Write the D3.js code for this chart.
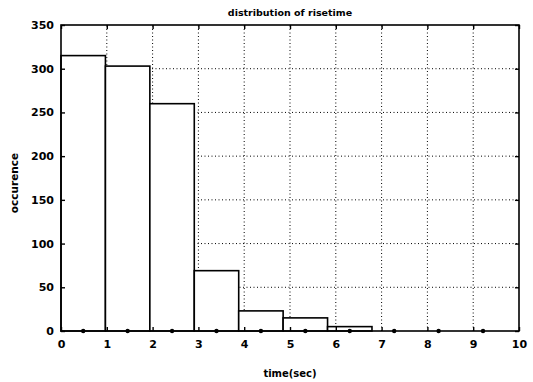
<!DOCTYPE html>
<html><head><meta charset="utf-8">
<script src="https://cdn.jsdelivr.net/npm/d3@7"></script>
<style>
html,body{margin:0;padding:0;background:#fff;}
text{font-family:"DejaVu Sans",sans-serif;font-weight:bold;fill:#000;}
</style></head>
<body>
<svg id="c" width="533" height="382"></svg>
<script>
// Histogram bins (start of each bin, in seconds) and counts
const binStarts = [0, 0.97, 1.94, 2.91, 3.88, 4.85, 5.82, 6.79, 7.76, 8.73];
const binWidth = 0.97;
const counts = [315, 303, 260, 69, 23, 15, 5, 0, 0, 0];
const xTicks = [0,1,2,3,4,5,6,7,8,9,10];
const yTicks = [0,50,100,150,200,250,300,350];
const title = "distribution of risetime";
const xLabel = "time(sec)";
const yLabel = "occurence";

const svg = d3.select("#c");
const m = {l:61, r:14, t:25, b:51};
const W = 533, H = 382;
const x = d3.scaleLinear().domain([0,10]).range([m.l, W-m.r]);
const y = d3.scaleLinear().domain([0,350]).range([H-m.b, m.t]);

// grid
const g = svg.append("g");
g.selectAll("line.vx").data(xTicks.slice(1,-1)).enter().append("line")
  .attr("x1",d=>x(d)).attr("x2",d=>x(d)).attr("y1",y(0)).attr("y2",y(350))
  .attr("stroke","#000").attr("stroke-width",1).attr("stroke-dasharray","1,2.5");
g.selectAll("line.hy").data(yTicks.slice(1,-1)).enter().append("line")
  .attr("y1",d=>y(d)).attr("y2",d=>y(d)).attr("x1",x(0)).attr("x2",x(10))
  .attr("stroke","#000").attr("stroke-width",1).attr("stroke-dasharray","1,2.5");

// bars
const bins = binStarts.map((s,i)=>({s, c:counts[i]}));
svg.selectAll("rect.bar").data(bins.filter(d=>d.c>0)).enter().append("rect")
  .attr("x",d=>x(d.s)).attr("width",d=>x(d.s+binWidth)-x(d.s))
  .attr("y",d=>y(d.c)).attr("height",d=>y(0)-y(d.c))
  .attr("fill","#fff").attr("stroke","#000").attr("stroke-width",1.6);

// markers at bin centres
svg.selectAll("circle.m").data(bins).enter().append("circle")
  .attr("cx",d=>x(d.s+binWidth/2)).attr("cy",y(0)).attr("r",2.2).attr("fill","#000");

// frame
svg.append("rect").attr("x",x(0)).attr("y",y(350)).attr("width",x(10)-x(0)).attr("height",y(0)-y(350))
  .attr("fill","none").attr("stroke","#000").attr("stroke-width",1.6);

// axes
const xa = svg.append("g").attr("transform",`translate(0,${y(0)})`)
  .call(d3.axisBottom(x).tickValues(xTicks).tickSize(-4).tickPadding(9).tickFormat(d3.format("d")));
const ya = svg.append("g").attr("transform",`translate(${x(0)},0)`)
  .call(d3.axisLeft(y).tickValues(yTicks).tickSize(-4).tickPadding(7).tickFormat(d3.format("d")));
const yr = svg.append("g").attr("transform",`translate(${x(10)},0)`)
  .call(d3.axisRight(y).tickValues(yTicks).tickSize(-4).tickFormat(""));
const xt = svg.append("g").attr("transform",`translate(0,${y(350)})`)
  .call(d3.axisTop(x).tickValues(xTicks).tickSize(-4).tickFormat(""));
[xa,ya,yr,xt].forEach(a=>{a.select(".domain").remove(); a.selectAll("line").attr("stroke","#000").attr("stroke-width",1.4);});
xa.selectAll("text").style("font-size","11px");
ya.selectAll("text").style("font-size","11px");

svg.append("text").attr("x",290).attr("y",16).attr("text-anchor","middle").style("font-size","9.5px").text(title);
svg.append("text").attr("x",290).attr("y",377).attr("text-anchor","middle").style("font-size","10px").text(xLabel);
svg.append("text").attr("transform","translate(18,183) rotate(-90)").attr("text-anchor","middle").style("font-size","10.5px").text(yLabel);
</script>
</body></html>
